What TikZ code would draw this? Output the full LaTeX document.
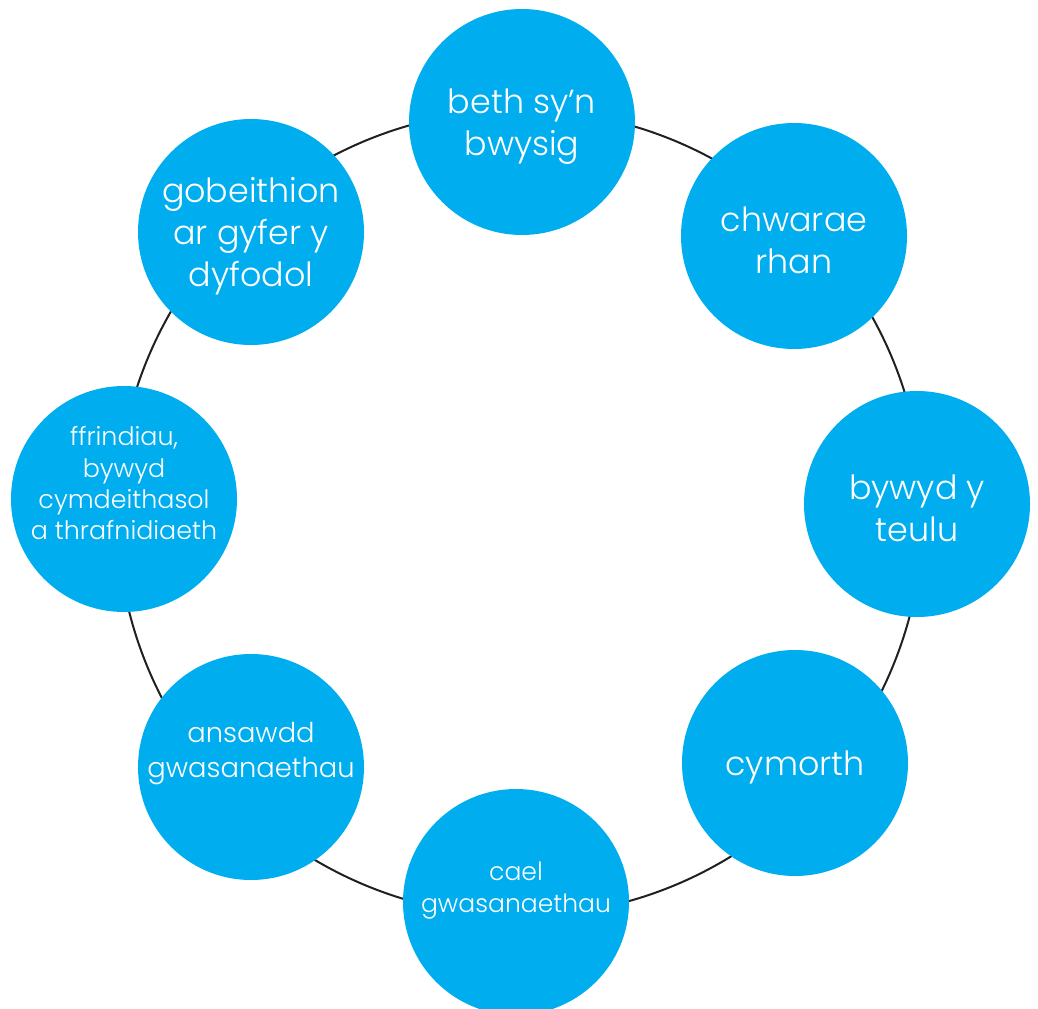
\documentclass[tikz,border=0pt]{standalone}
\usepackage{fontspec}
\setmainfont{Poppins}[UprightFont=* Light]
\usepackage{tikz}
\definecolor{ringblue}{RGB}{0,174,239}
\definecolor{ringline}{RGB}{35,31,32}

\begin{document}
\begin{tikzpicture}[x=0.75pt,y=-0.75pt,
  main node/.style={circle,fill=ringblue,draw=none,minimum size=169.5pt,inner sep=0pt},
  lbl/.style={text=white,align=center,inner sep=0pt},
  big/.style={lbl,font=\fontsize{25}{31.5}\selectfont,yshift=-3.4pt},
  small/.style={lbl,font=\fontsize{19}{23.5}\selectfont,yshift=11.75pt}]
  \useasboundingbox (0,0) rectangle (1038,1009);

  \coordinate (c) at (520,513);
  \draw[ringline,line width=1.5pt] (c) circle[radius=403];

  \node[main node,label={[big]center:beth sy'n\\bwysig}] (1) at (522,122) {};
  \node[main node,label={[big]center:chwarae\\rhan}] (2) at (794,236) {};
  \node[main node,label={[big]center:bywyd y\\teulu}] (3) at (917,504) {};
  \node[main node,label={[big]center:cymorth}] (4) at (795,763) {};
  \node[main node,label={[small,font=\fontsize{18.8}{24}\selectfont,yshift=-3.5pt]center:cael\\gwasanaethau}] (5) at (516,902) {};
  \node[main node,label={[small,font=\fontsize{20.5}{26}\selectfont,yshift=-1.75pt]center:ansawdd\\gwasanaethau}] (6) at (251,767) {};
  \node[main node,label={[small]center:ffrindiau,\\bywyd\\cymdeithasol\\a thrafnidiaeth}] (7) at (124,499) {};
  \node[main node,label={[big]center:gobeithion\\ar gyfer y\\dyfodol}] (8) at (251,232) {};

\end{tikzpicture}
\end{document}
